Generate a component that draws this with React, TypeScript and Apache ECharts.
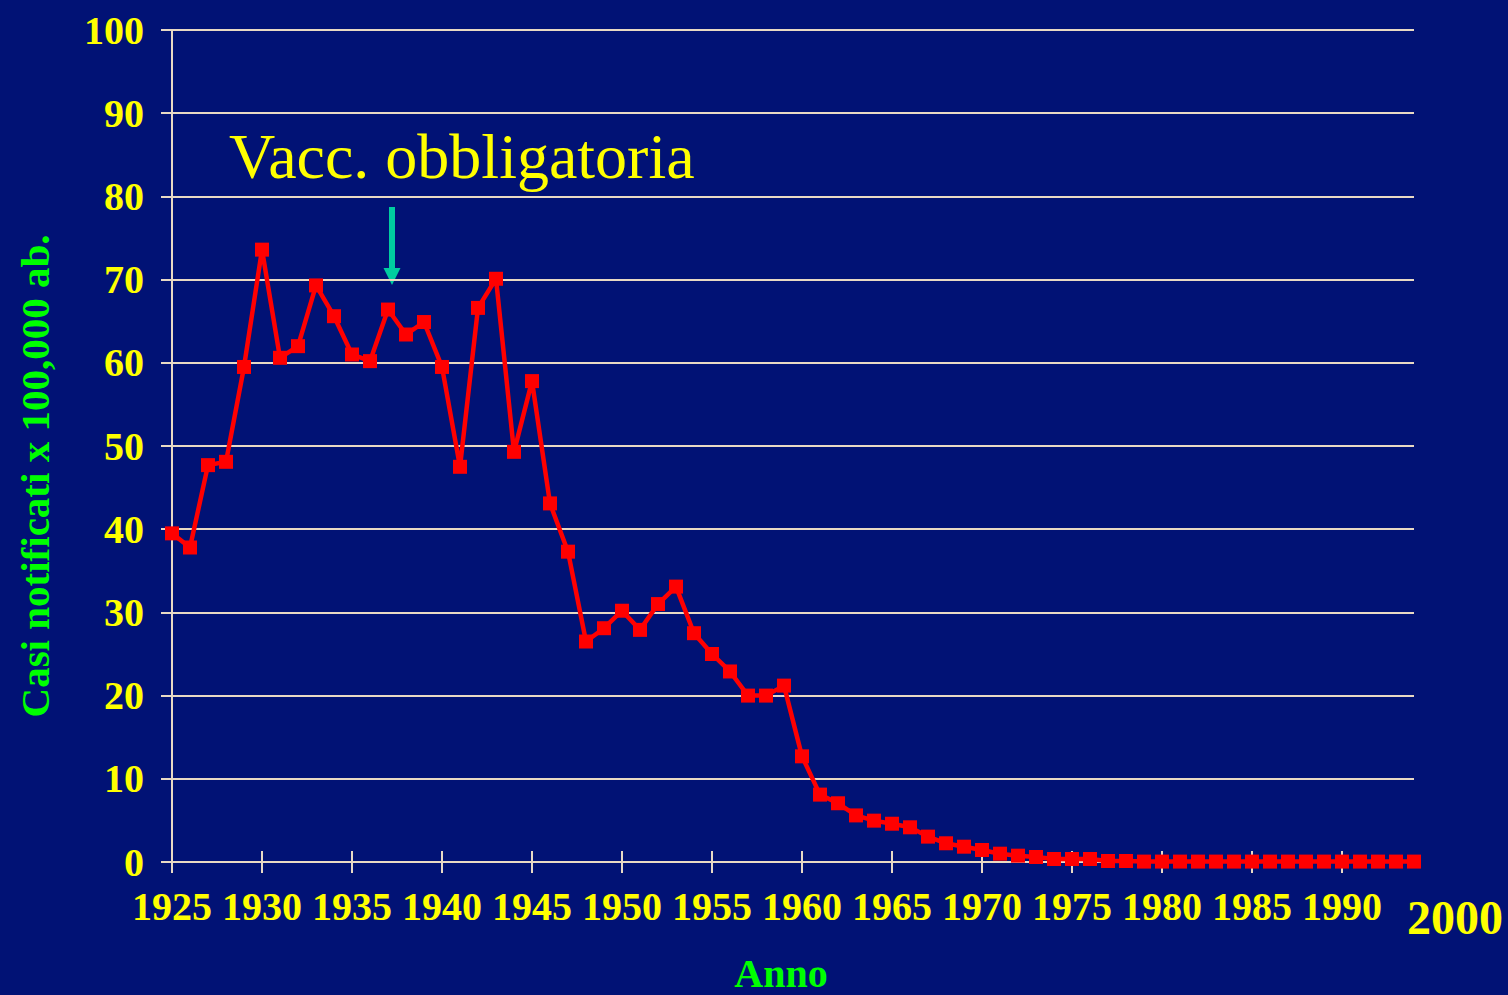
import React, { useEffect, useRef } from "react";
import * as echarts from "echarts";

const years: string[] = [];
for (let y = 1925; y <= 1994; y++) years.push(String(y));

const casi: number[] = [
  39.5, 37.8, 47.7, 48.1, 59.5, 73.6, 60.6, 62.0, 69.3, 65.6,
  61.0, 60.2, 66.4, 63.4, 64.9, 59.5, 47.5, 66.6, 70.1, 49.3,
  57.8, 43.1, 37.3, 26.5, 28.1, 30.2, 27.9, 31.0, 33.1, 27.5,
  25.0, 22.9, 20.0, 20.0, 21.2, 12.7, 8.1, 7.06, 5.6, 4.97,
  4.6, 4.17, 3.05, 2.25, 1.84, 1.44, 1.0, 0.76, 0.6, 0.36,
  0.36, 0.36, 0.12, 0.12, 0.05, 0.05, 0.05, 0.05, 0.05, 0.05,
  0.05, 0.05, 0.05, 0.05, 0.05, 0.05, 0.05, 0.05, 0.05, 0.05,
];

const yTicks = { min: 0, max: 100, interval: 10 };
const extraYearLabel = "2000";
const yTitle = "Casi notificati x 100,000 ab.";
const xTitle = "Anno";
const annotation = "Vacc. obbligatoria";

const BG = "#011275";
const GRID = "#E8D9C4";
const YELLOW = "#FFFF00";
const GREEN = "#00FF00";
const FONT = "'Liberation Serif', 'Times New Roman', serif";

export default function App() {
  const ref = useRef<HTMLDivElement>(null);
  useEffect(() => {
    if (!ref.current) return;
    const chart = echarts.init(ref.current, null, { renderer: "svg" });
    const every5 = (i: number) => i % 5 === 0;
    chart.setOption({
      animation: false,
      backgroundColor: BG,
      grid: { left: 172, right: 94, top: 30, bottom: 133, containLabel: false },
      xAxis: [
        {
          type: "category",
          data: years,
          boundaryGap: false,
          axisLine: { show: true, lineStyle: { color: GRID, width: 2 } },
          axisTick: { show: true, length: 11, interval: (i: number) => every5(i), lineStyle: { color: GRID, width: 2 } },
          axisLabel: {
            interval: (i: number) => every5(i),
            color: YELLOW,
            fontFamily: FONT,
            fontWeight: "bold",
            fontSize: 40,
            margin: 24,
          },
          splitLine: { show: false },
        },
        {
          type: "category",
          data: years,
          boundaryGap: false,
          position: "bottom",
          offset: 0,
          axisLine: { show: false },
          axisTick: { show: true, inside: true, length: 11, interval: (i: number) => every5(i), lineStyle: { color: GRID, width: 2 } },
          axisLabel: { show: false },
          splitLine: { show: false },
        },
      ],
      yAxis: {
        type: "value",
        min: yTicks.min,
        max: yTicks.max,
        interval: yTicks.interval,
        axisLine: { show: true, lineStyle: { color: GRID, width: 2 } },
        axisTick: { show: true, length: 11, lineStyle: { color: GRID, width: 2 } },
        axisLabel: {
          color: YELLOW,
          fontFamily: FONT,
          fontWeight: "bold",
          fontSize: 40,
          margin: 28,
        },
        splitLine: { show: true, lineStyle: { color: GRID, width: 2 } },
      },
      series: [
        {
          type: "line",
          data: casi,
          xAxisIndex: 0,
          symbol: "rect",
          symbolSize: 14,
          showAllSymbol: true,
          lineStyle: { color: "#FF0000", width: 4.5 },
          itemStyle: { color: "#FF0000" },
        },
      ],
      graphic: [
        {
          type: "text",
          x: 35,
          y: 476,
          rotation: Math.PI / 2,
          style: {
            text: yTitle,
            fill: GREEN,
            font: `bold 41px ${FONT}`,
            textAlign: "center",
            textVerticalAlign: "middle",
          },
        },
        {
          type: "text",
          x: 781,
          y: 973,
          style: {
            text: xTitle,
            fill: GREEN,
            font: `bold 40px ${FONT}`,
            textAlign: "center",
            textVerticalAlign: "middle",
          },
        },
        {
          type: "text",
          x: 1455,
          y: 917,
          style: {
            text: extraYearLabel,
            fill: YELLOW,
            font: `bold 48px ${FONT}`,
            textAlign: "center",
            textVerticalAlign: "middle",
          },
        },
        {
          type: "text",
          x: 229,
          y: 156,
          style: {
            text: annotation,
            fill: YELLOW,
            font: `64px ${FONT}`,
            textAlign: "left",
            textVerticalAlign: "middle",
          },
        },
        {
          type: "rect",
          shape: { x: 389, y: 207, width: 6, height: 62 },
          style: { fill: "#00CCA0" },
        },
        {
          type: "polygon",
          shape: { points: [[383.5, 268], [400.5, 268], [392, 285]] },
          style: { fill: "#00CCA0" },
        },
      ],
    });
    return () => chart.dispose();
  }, []);
  return (
    <div
      ref={ref}
      style={{ position: "fixed", left: 0, top: 0, width: 1508, height: 995, background: BG }}
    />
  );
}
